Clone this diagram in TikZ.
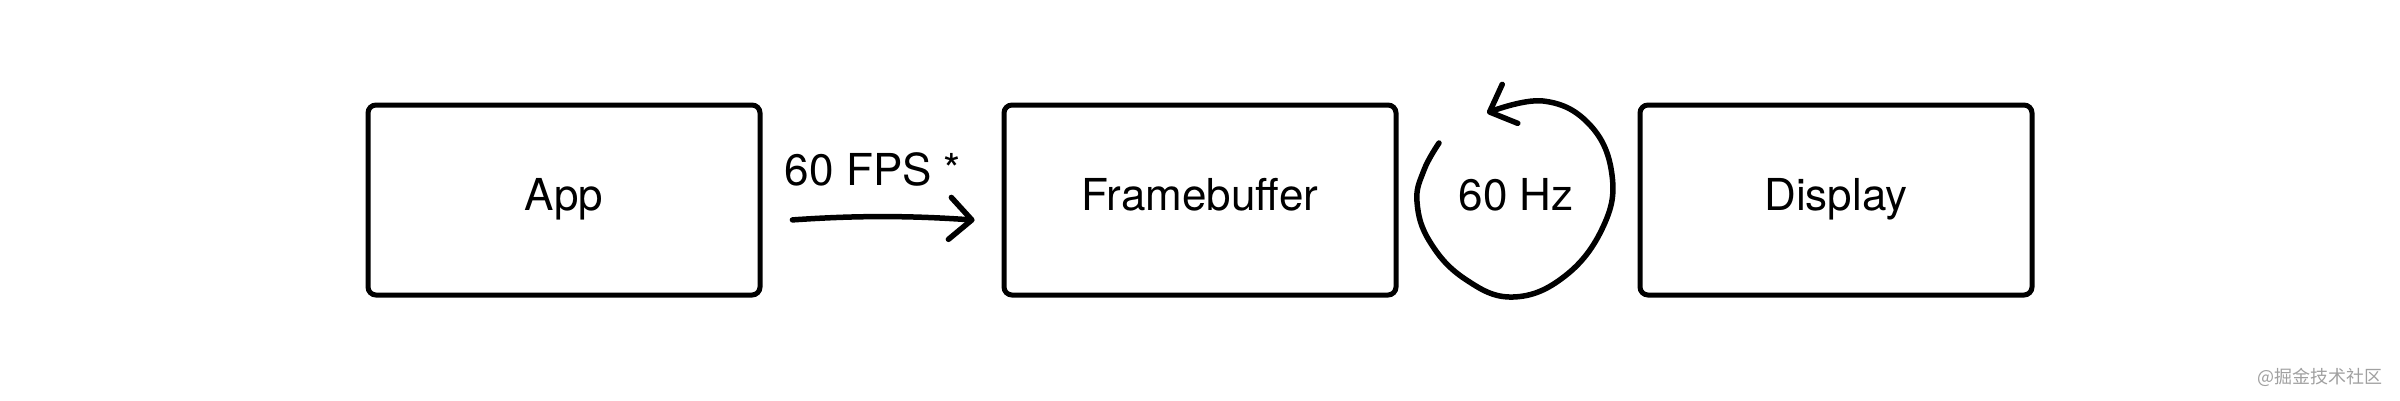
\documentclass[tikz,border=0pt]{standalone}
\usepackage{fontspec}
\setmainfont{TeX Gyre Heros}
\newfontfamily\cjkfont{Noto Sans CJK SC}
\usetikzlibrary{shapes, arrows.meta}
\definecolor{markgray}{RGB}{160,160,160}
\tikzstyle{base} = [font=\fontsize{44}{52}\selectfont, text height=31pt, text depth=10pt]
\tikzstyle{block} = [base, draw, rectangle, rounded corners=8pt, line width=5pt, minimum width=392pt, minimum height=190pt, inner sep=0pt]
\tikzstyle{connector} = [draw, line width=5.5pt, line cap=round, line join=round, -{Straight Barb[length=22pt, width=42pt, line cap=round, line join=round]}]
\tikzstyle{connector text} = [base, midway, anchor=base, yshift=32pt, xshift=-9pt, text=black]

\begin{document}
\begin{tikzpicture}[x=1pt, y=-1pt]
	\useasboundingbox (0,0) rectangle (2400,400);
	
	\node [block] at (564, 200) (app) {App};
	\node [block] at (1200, 200) (framebuffer) {Framebuffer};
	\node [block] at (1836, 200) (display) {Display};
	
	\path [connector, shorten <=30pt, shorten >=27pt] ([yshift=-22pt]app.east) to[bend left=4] node[connector text] {60 FPS *} ([yshift=-22pt]framebuffer.west);
	
	% refresh loop
	\node [base] at (1516, 200) (refresh) {60 Hz};
	\path [connector] plot[smooth, tension=0.7] coordinates {(1439,143) (1424,170) (1417,202) (1430,242) (1465,279) (1513,297) (1565,276) (1603,227) (1612,175) (1590,125) (1543,101) (1487,113)};
	
	\node [text=markgray, font=\cjkfont\fontsize{18}{20}\selectfont, anchor=east] at (2386, 377) (mark) {@掘金技术社区};
	
\end{tikzpicture}
\end{document}
